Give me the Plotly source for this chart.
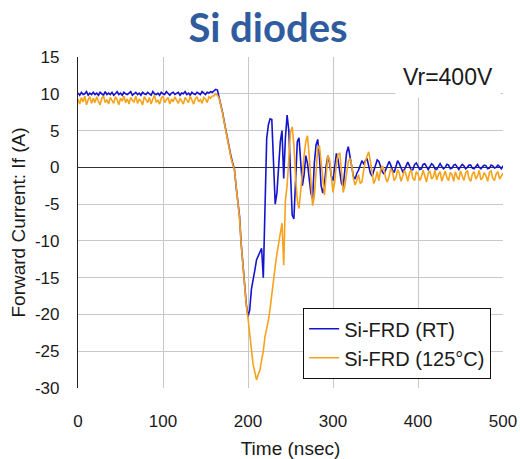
import plotly.graph_objects as go

# sampling grid (ns), 2 ns step
time_ns = list(range(0, 502, 2))

# Si-FRD (RT) forward current (A)
rt_current = [
    10.1, 9.8, 10.2, 9.9, 10.0, 10.3, 9.8, 10.1, 9.9, 10.2,
    9.9, 10.1, 9.8, 10.2, 10.0, 9.8, 10.3, 9.9, 10.1, 9.9,
    10.2, 9.8, 10.0, 10.3, 9.9, 10.1, 9.8, 10.2, 10.0, 9.9,
    10.1, 10.3, 9.8, 10.0, 10.2, 9.9, 10.1, 9.8, 10.2, 10.0,
    9.9, 10.2, 10.0, 9.8, 10.3, 10.0, 9.9, 10.1, 9.8, 10.2,
    10.0, 9.9, 10.3, 10.0, 9.8, 10.1, 10.2, 9.9, 10.0, 10.2,
    9.8, 10.1, 10.0, 10.3, 9.9, 10.1, 9.8, 10.2, 10.0, 9.9,
    10.2, 10.0, 9.9, 10.3, 10.1, 9.9, 10.2, 10.1, 10.3, 10.2,
    10.4, 10.6, 10.5, 9.6, 8.7, 7.5, 6.2, 4.9, 3.7, 2.5,
    1.5, 0.6, -0.2, -2.6, -4.6, -6.6, -10.4, -13.4, -16.2, -18.6,
    -20.3, -19.4, -16.6, -15.0, -14.0, -12.6, -12.0, -11.5, -11.0, -15.0,
    -6.5, 3.9, 5.8, 6.6, 6.5, 1.5, -5.0, -3.5, 0.5, 3.5,
    5.0, -1.5, 4.0, 7.1, 5.0, -1.0, -6.5, -7.0, -2.0, 3.5,
    4.0, 0.5, -2.5, -1.0, 1.6, 0.5, -2.0, -3.5, -4.3, 0.5,
    3.0, 3.8, 1.5, -2.5, -3.5, -2.2, 0.2, 1.6, 0.5, -1.2,
    -1.8, 0.5, 1.9, 1.0, -1.0, -2.2, -2.6, -0.5, 2.0, 2.8,
    1.6, 0.2, -1.2, -1.6, -0.8, -0.4, 0.4, 0.9, 0.5, 0.9,
    1.2, 0.2, -0.8, -1.2, -0.5, 0.2, 1.0, 0.8, 0.1, -0.6,
    -0.9, -0.3, 0.4, 0.8, 0.3, -0.4, -0.7, 0.2, 0.9, 0.5,
    -0.2, -0.6, -0.3, 0.3, 0.7, 0.2, -0.4, -0.3, 0.4, 0.6,
    0.1, -0.3, -0.2, 0.4, 0.5, 0.0, -0.3, 0.1, 0.5, 0.3,
    -0.2, -0.3, 0.2, 0.5, 0.1, -0.2, 0.0, 0.4, 0.3, -0.2,
    -0.1, 0.3, 0.4, 0.0, -0.3, 0.1, 0.4, 0.2, -0.2, 0.0,
    0.3, 0.3, -0.1, -0.2, 0.2, 0.4, 0.0, -0.2, 0.1, 0.3,
    0.2, -0.2, -0.1, 0.3, 0.2, -0.1, 0.0, 0.3, 0.1, -0.2,
    0.2,
]

# Si-FRD (125°C) forward current (A)
hot_current = [
    9.3, 8.6, 9.5, 8.9, 9.7, 8.5, 9.2, 9.6, 8.7, 9.4,
    8.8, 9.6, 9.0, 8.5, 9.4, 9.7, 8.8, 9.2, 8.6, 9.5,
    9.1, 8.7, 9.6, 9.2, 8.5, 9.4, 9.0, 9.7, 8.8, 9.3,
    8.6, 9.5, 9.1, 8.9, 9.7, 8.7, 9.3, 9.0, 8.5, 9.6,
    9.2, 8.8, 9.5, 8.6, 9.3, 9.8, 8.9, 9.1, 8.6, 9.4,
    9.7, 8.8, 9.2, 9.5, 8.6, 9.3, 8.9, 9.6, 9.1, 8.7,
    9.4, 9.0, 8.6, 9.5, 9.2, 8.8, 9.7, 9.1, 8.6, 9.3,
    9.6, 8.9, 9.2, 8.7, 9.5, 9.3, 8.8, 9.6, 9.4, 9.7,
    9.7, 10.0, 9.8, 9.4, 8.5, 7.4, 6.1, 4.8, 3.6, 2.3,
    1.3, 0.4, -0.3, -2.5, -4.8, -6.8, -10.5, -13.6, -16.3, -18.8,
    -20.5, -22.6, -24.4, -26.8, -27.8, -28.9, -28.2, -27.6, -26.2, -25.0,
    -23.0, -22.0, -20.8, -19.2, -17.1, -15.5, -13.5, -11.8, -10.2, -8.6,
    -7.6, -13.3, -4.5, -2.5, 2.0, 4.8, 5.5, 3.0, -1.5, -4.5,
    -5.6, -3.0, -0.5, 1.6, 3.5, 4.3, 1.5, -2.4, -5.2, -4.0,
    -0.5, 2.5, 3.0, 0.5, -2.0, -3.8, -1.0, 1.6, 1.0, -1.5,
    -3.4, -2.0, 0.5, 1.8, 1.9, -0.5, -3.4, -2.5, -0.8, 0.8,
    1.2, 0.3, -1.5, -2.4, -1.8, -1.0, -2.2, -2.0, -0.5, 0.8,
    1.5, 2.1, 0.8, -1.0, -2.2, -1.6, -0.6, -1.8, -0.4, 0.2,
    -0.3, -1.5, -2.0, -1.2, -0.2, -0.6, -1.8, -1.4, -0.3, -0.8,
    -1.9, -1.2, -0.4, -1.0, -1.9, -0.7, -0.3, -1.5, -1.8, -0.6,
    -0.9, -1.8, -1.3, -0.4, -1.1, -2.0, -0.8, -0.5, -1.6, -1.3,
    -0.4, -1.7, -1.0, -0.6, -1.9, -1.2, -0.5, -1.4, -1.8, -0.7,
    -1.0, -1.9, -0.6, -1.3, -1.7, -0.5, -1.1, -1.8, -0.8, -0.4,
    -1.5, -1.9, -0.9, -0.6, -1.6, -1.2, -0.4, -1.7, -1.4, -0.7,
    -1.2, -1.9, -0.7, -0.5, -1.5, -1.8, -0.9, -0.6, -1.6, -1.1,
    -0.8,
]

series_names = ["Si-FRD (RT)", "Si-FRD (125\u00b0C)"]
x_ticks = [0, 100, 200, 300, 400, 500]
x_tick_text = ["0", "100", "200", "300", "400", "500"]
y_ticks = [15, 10, 5, 0, -5, -10, -15, -20, -25, -30]
y_tick_text = ["15", "10", "5", "0", "-5", "-10", "-15", "-20", "-25", "-30"]

FONT = "Liberation Sans, Arial, sans-serif"
TXT = "#1a1a1a"

fig = go.Figure()
fig.add_trace(go.Scatter(x=time_ns, y=rt_current, mode="lines", name=series_names[0],
                         line=dict(color="#1414CC", width=1.6)))
fig.add_trace(go.Scatter(x=time_ns, y=hot_current, mode="lines", name=series_names[1],
                         line=dict(color="#F7A21B", width=1.6)))

fig.update_layout(
    width=520, height=459,
    margin=dict(l=78, r=17, t=57, b=71, autoexpand=False),
    paper_bgcolor="white", plot_bgcolor="white",
    font=dict(family=FONT, color=TXT, size=17),
    title=dict(text="<b>Si diodes</b>", x=268 / 520, xref="container", xanchor="center",
               y=1 - 28 / 459, yref="container", yanchor="middle",
               font=dict(family="Lato, Open Sans, sans-serif", size=40, color="#2F5C9E")),
    showlegend=True,
    legend=dict(x=0.529, y=0.242, xanchor="left", yanchor="top",
                bgcolor="white", bordercolor="#111", borderwidth=1.3,
                font=dict(size=20, family=FONT, color=TXT),
                tracegroupgap=0, itemwidth=30),
    annotations=[dict(text="Vr=400V", x=(448 - 78) / 425, y=(388 - 76.5) / 331,
                      xref="paper", yref="paper",
                      xanchor="center", yanchor="middle", showarrow=False,
                      bgcolor="white", borderpad=7,
                      font=dict(size=23, family=FONT, color=TXT))],
)
fig.update_xaxes(range=[0, 500], tickvals=x_ticks, ticktext=x_tick_text,
                 ticks="outside", ticklen=0, automargin=False,
                 ticklabelstandoff=18, showgrid=True, gridcolor="#C8C8C8", gridwidth=1,
                 zeroline=False, showline=False,
                 title=dict(text="Time (nsec)", font=dict(size=19), standoff=12))
fig.update_yaxes(range=[-30, 15], tickvals=y_ticks, ticktext=y_tick_text,
                 ticks="outside", ticklen=0, automargin=False,
                 ticklabelstandoff=14, showgrid=True, gridcolor="#C8C8C8", gridwidth=1,
                 zeroline=True, zerolinecolor="#333", zerolinewidth=1.2,
                 showline=True, linecolor="#222", linewidth=1.2,
                 title=dict(text="Forward Current: If (A)", font=dict(size=19), standoff=4))

fig.write_html("out.html")
